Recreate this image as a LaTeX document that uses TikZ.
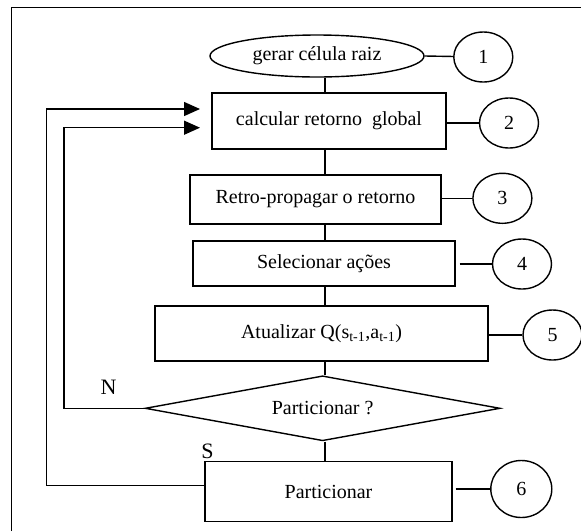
\documentclass[tikz,border=0pt]{standalone}
\usepackage{fontspec}
\setmainfont{Liberation Serif}
\usepackage{tikz}
\usetikzlibrary{arrows.meta}
\usetikzlibrary{shapes.geometric}

\begin{document}
\begin{tikzpicture}[x=1pt, y=-1pt, line width=1.4pt,
	>={Triangle[width=14pt,length=16pt]},
    passo/.style = {rectangle, draw=black, inner sep=0pt,
                   text centered, font=\fontsize{20}{24}\selectfont},
    numero/.style = {ellipse, draw=black, inner sep=0pt,
                   minimum width=59pt, minimum height=50pt,
                   font=\fontsize{20}{24}\selectfont},
    inicio/.style = {passo, ellipse},
    teste/.style = {passo, diamond, aspect=5.5},
    rotulo/.style = {font=\fontsize{22}{26}\selectfont}]
  \useasboundingbox (0,0) rectangle (581,531);
  \draw (11.7,531) |- (581,7.3);

  \coordinate (eixo) at (325,0);
  \node (raiz) [inicio, minimum width=214pt, minimum height=42pt] at (317,56) {gerar célula raiz};
  \node (calc) [passo, minimum width=234pt, minimum height=56pt] at (329,121) {calcular retorno\ \ global};
  \node (retro) [passo, minimum width=251pt, minimum height=49pt] at (315.5,199.5) {Retro-propagar o retorno};
  \node (sel) [passo, minimum width=262pt, minimum height=45pt] at (324,263.5) {Selecionar ações};
  \node (atu) [passo, minimum width=333pt, minimum height=55pt] at (321.5,333.5) {Atualizar Q(s\textsubscript{t-1},a\textsubscript{t-1})};
  \node (dec) [teste, minimum width=355pt, minimum height=65pt] at (322.6,408.3) {Particionar ?};
  \node (part) [passo, minimum width=247pt, minimum height=60pt] at (328.5,491.5) {Particionar};

  \node (n1) [numero] at (483.3,57) {1};
  \node (n2) [numero] at (509,123) {2};
  \node (n3) [numero] at (502.4,198.3) {3};
  \node (n4) [numero] at (522,264) {4};
  \node (n5) [numero] at (552.5,335) {5};
  \node (n6) [numero, minimum width=61pt, minimum height=57pt] at (521.3,489) {6};

  \node (nao) [rotulo] at (108.5,387) {N};
  \node (sim) [rotulo] at (207.4,451) {S};

  \path[-]
    (raiz.south -| eixo) edge (calc.north -| eixo)
    (calc.south -| eixo) edge (retro.north -| eixo)
    (retro.south -| eixo) edge (sel.north -| eixo)
    (sel.south -| eixo) edge (atu.north -| eixo)
    (atu.south -| eixo) edge (dec.north -| eixo)
    (dec.south -| eixo) edge (part.north -| eixo);

  \path[-]
    (raiz.east) edge (n1)
    (calc.east |- n2) edge (n2)
    (retro.east |- n3) edge (n3)
    (sel.east |- n4) edge[shorten <=4pt] (n4)
    (atu.east |- n5) edge (n5)
    (part.east |- n6) edge[shorten <=3pt] (n6);

  \coordinate (ladoS) at (46.7,109);
  \coordinate (ladoN) at (64,127.7);
  \coordinate (setaS) at (200,109);
  \coordinate (setaN) at (200,127.7);
  \draw[->] ([yshift=6pt]part.west) -| (ladoS) -- (setaS);
  \draw[->] (dec.west) -| (ladoN) -- (setaN);
\end{tikzpicture}
\end{document}
